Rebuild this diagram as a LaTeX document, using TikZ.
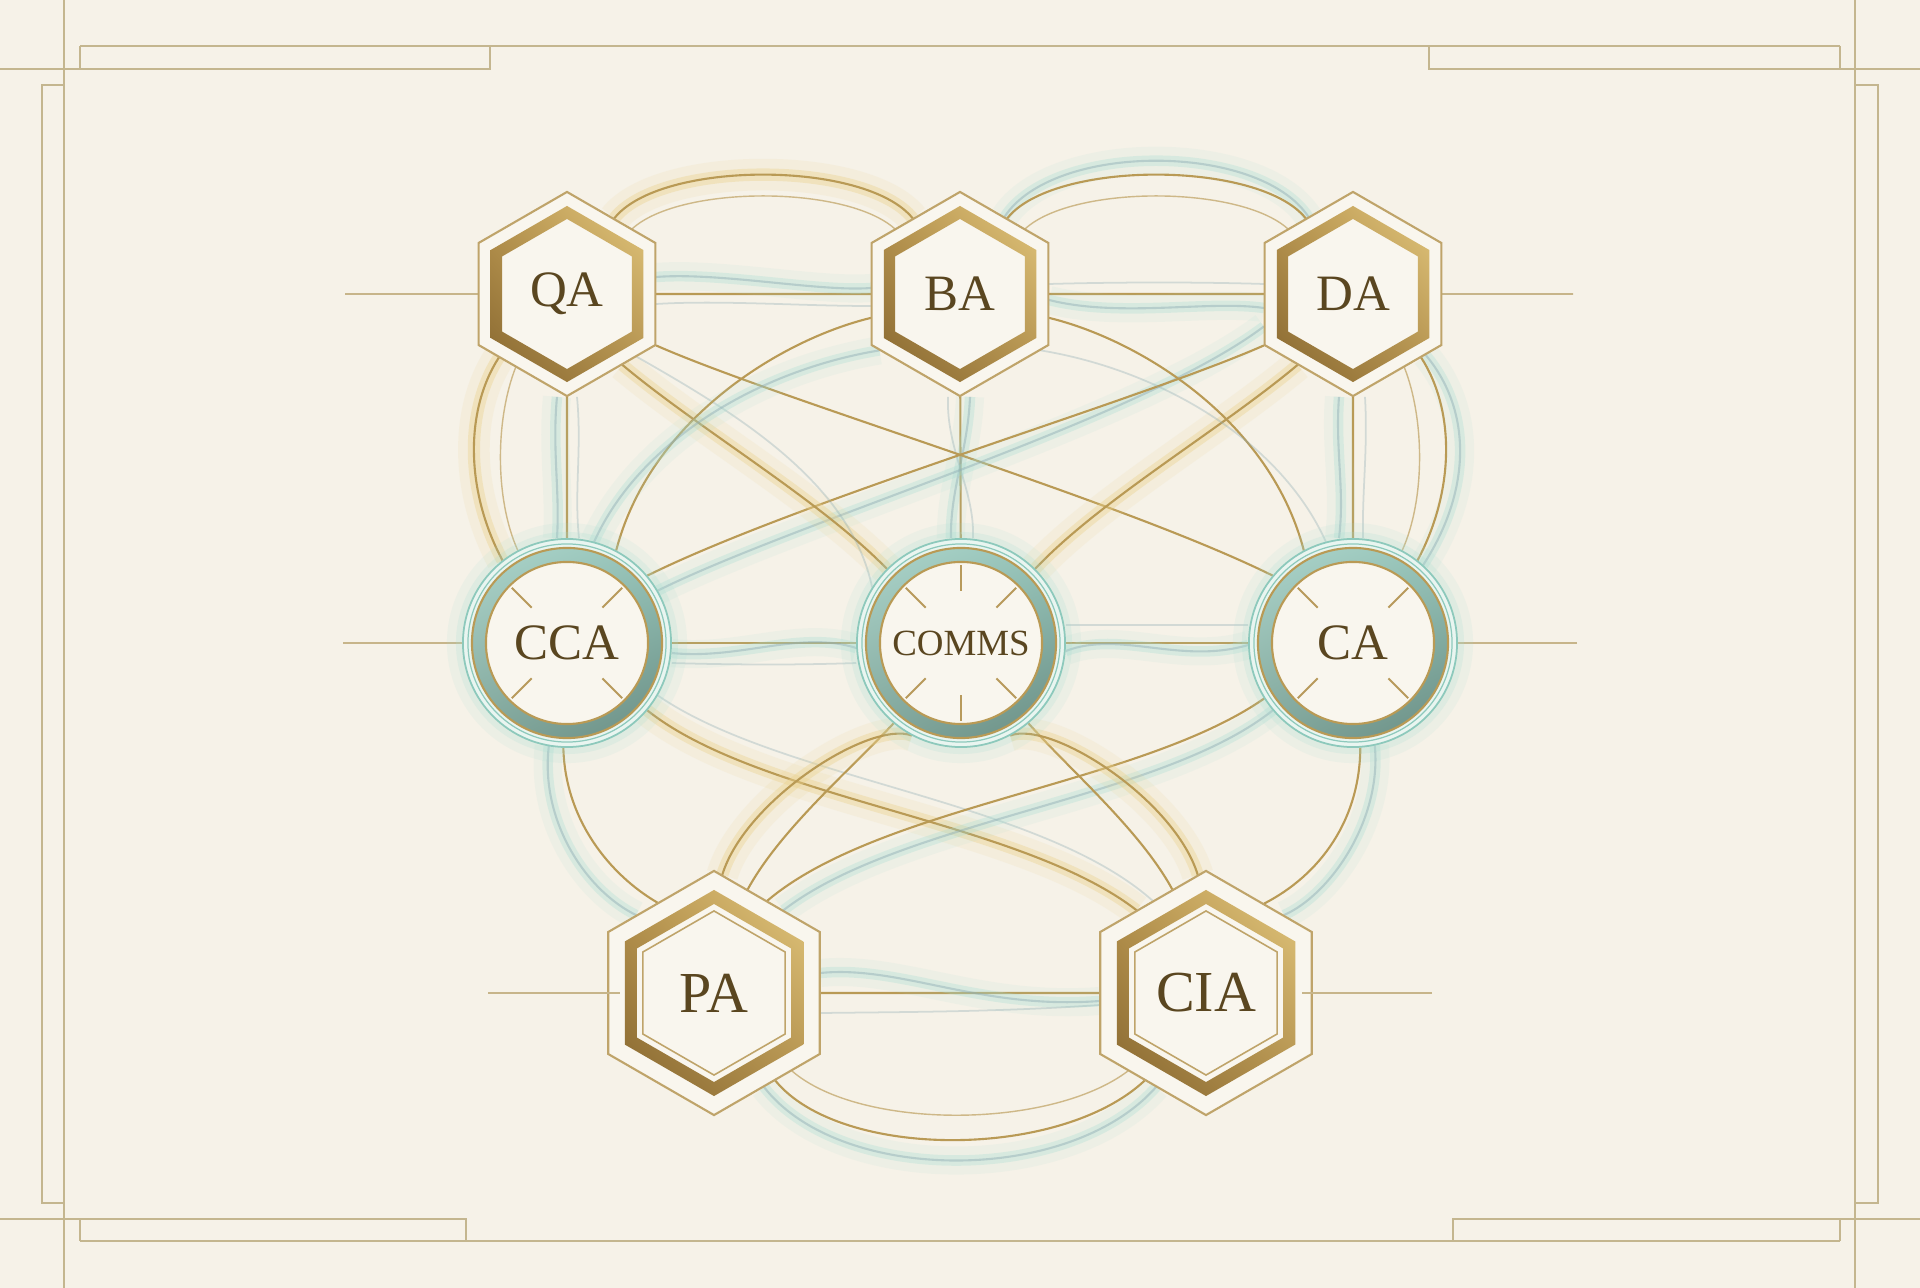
\documentclass[tikz,border=0pt]{standalone}
\usepackage{fontspec}
\setmainfont{Liberation Serif}
\usetikzlibrary{shapes.geometric,shadings}
\definecolor{bgc}{HTML}{F6F2E8}
\definecolor{framec}{HTML}{C4B68F}
\definecolor{stubc}{HTML}{C7B58A}
\definecolor{goldln}{HTML}{B99A55}
\definecolor{goldglow}{HTML}{EBD28C}
\definecolor{tealglow}{HTML}{A6DDD2}
\definecolor{tealcore}{HTML}{8FADB4}
\definecolor{hexline}{HTML}{BFA46A}
\definecolor{ink}{HTML}{5A4620}
\definecolor{cream}{HTML}{F9F6EE}
\definecolor{mint}{HTML}{E9F5F0}
\definecolor{ringteal}{HTML}{8DC9BC}
\definecolor{tickc}{HTML}{B89A5C}
\definecolor{bandUL}{HTML}{B8954F}
\definecolor{bandUR}{HTML}{E2C67C}
\definecolor{bandLL}{HTML}{86662F}
\definecolor{bandLR}{HTML}{B18F4C}
\definecolor{ringUL}{HTML}{ADD5CB}
\definecolor{ringUR}{HTML}{96C4B9}
\definecolor{ringLL}{HTML}{82A79C}
\definecolor{ringLR}{HTML}{6A8E84}
\pgfdeclarelayer{back}
\pgfdeclarelayer{links}
\pgfdeclarelayer{body}
\pgfsetlayers{back,links,body,main}
\newcommand\hexloop[1]{(90:#1) -- (150:#1) -- (210:#1) -- (270:#1) -- (330:#1) -- (30:#1) -- cycle}
\tikzset{
  framel/.style={draw=framec, line width=0.55pt},
  stubln/.style={draw=stubc, line width=0.5pt},
  gl/.style={draw=goldln, line width=0.6pt},
  gthin/.style={draw=goldln, line width=0.4pt, draw opacity=0.65},
  ggold/.style={gl, preaction={draw=goldglow, line width=9pt, opacity=0.13}, preaction={draw=goldglow, line width=3.5pt, opacity=0.38}},
  tband/.style={draw=tealcore, line width=0.6pt, draw opacity=0.45, preaction={draw=tealglow, line width=8pt, opacity=0.1}, preaction={draw=tealglow, line width=3pt, opacity=0.3}},
  tfaint/.style={draw=tealcore, line width=0.5pt, draw opacity=0.35},
  hexT/.style={regular polygon, regular polygon sides=6, regular polygon rotate=30, minimum size=2.04cm, inner sep=0pt, text=ink, font=\fontsize{14.5}{16}\selectfont},
  hexB/.style={hexT, minimum size=2.44cm, font=\fontsize{16.5}{18}\selectfont},
  circN/.style={circle, minimum size=2.08cm, inner sep=0pt, text=ink, font=\fontsize{14.5}{16}\selectfont},
  hexout/.style={fill=cream, draw=hexline, line width=0.6pt},
  goldband/.style={even odd rule, upper left=bandUL, upper right=bandUR, lower left=bandLL, lower right=bandLR},
  ringband/.style={even odd rule, upper left=ringUL, upper right=ringUR, lower left=ringLL, lower right=ringLR},
  tickln/.style={draw=tickc, line width=0.55pt},
}
\begin{document}
\begin{tikzpicture}[x=0.01cm, y=-0.01cm]
\useasboundingbox (0,0) rectangle (1920,1288);
% nodes
\node[hexT] (QA) at (567,294) {QA};
\node[hexT] (BA) at (960,294) {BA};
\node[hexT] (DA) at (1353,294) {DA};
\node[circN] (CCA) at (567,643) {CCA};
\node[circN, font=\fontsize{10.5}{12}\selectfont] (COMMS) at (961,643) {COMMS};
\node[circN] (CA) at (1353,643) {CA};
\node[hexB] (PA) at (714,993) {PA};
\node[hexB] (CIA) at (1206,993) {CIA};
\coordinate (sQA) at (345,294);
\coordinate (sDA) at (1573,294);
\coordinate (sCCA) at (343,643);
\coordinate (sCA) at (1577,643);
\coordinate (sPA) at (488,993);
\coordinate (sCIA) at (1432,993);

\begin{pgfonlayer}{back}
\fill[bgc] (0,0) rectangle (1920,1288);
\draw[framel] (64,0) -- (64,1288);
\draw[framel] (1855,0) -- (1855,1288);
\draw[framel] (80,46) -- (1840,46);
\draw[framel] (0,69) -- (490,69) -- (490,46);
\draw[framel] (80,46) -- (80,69);
\draw[framel] (1920,69) -- (1429,69) -- (1429,46);
\draw[framel] (1840,46) -- (1840,69);
\draw[framel] (80,1241) -- (1840,1241);
\draw[framel] (0,1219) -- (466,1219) -- (466,1241);
\draw[framel] (80,1219) -- (80,1241);
\draw[framel] (1920,1219) -- (1453,1219) -- (1453,1241);
\draw[framel] (1840,1219) -- (1840,1241);
\draw[framel] (64,85) -- (42,85) -- (42,1203) -- (64,1203);
\draw[framel] (1855,85) -- (1878,85) -- (1878,1203) -- (1855,1203);
\end{pgfonlayer}

\begin{pgfonlayer}{links}
% stubs
\draw[stubln] (sQA) -- (QA);
\draw[stubln] (sDA) -- (DA);
\draw[stubln] (sCCA) -- (CCA);
\draw[stubln] (sCA) -- (CA);
% outer loop
\draw[ggold] (QA.58) .. controls (660,160) and (866,160) .. (BA.122);
\draw[gthin] (QA.45) .. controls (680,185) and (846,185) .. (BA.135);
\draw[tband] (BA.60) .. controls (1053,142) and (1259,142) .. (DA.120);
\draw[gl] (BA.58) .. controls (1053,160) and (1259,160) .. (DA.122);
\draw[gthin] (BA.45) .. controls (1073,185) and (1239,185) .. (DA.135);
\draw[ggold] (QA.223) .. controls (465,410) and (465,490) .. (CCA.128);
\draw[gthin] (QA.235) .. controls (495,420) and (495,500) .. (CCA.118);
\draw[tband] (DA.-40) .. controls (1472,410) and (1472,490) .. (CA.48);
\draw[gl] (DA.-43) .. controls (1455,410) and (1455,490) .. (CA.52);
\draw[gthin] (DA.-55) .. controls (1425,420) and (1425,500) .. (CA.62);
\draw[tband] (CCA.-100) .. controls (540,820) and (585,890) .. (PA.135);
\draw[gl] (CCA.-92) .. controls (565,820) and (610,875) .. (PA.122);
\draw[tband] (CA.-78) .. controls (1382,820) and (1330,895) .. (CIA.45);
\draw[gl] (CA.-86) .. controls (1360,820) and (1320,875) .. (CIA.57);
\draw[tband] (PA.-62) .. controls (840,1185) and (1070,1185) .. (CIA.-118);
\draw[gl] (PA.-55) .. controls (840,1160) and (1060,1160) .. (CIA.-125);
\draw[gthin] (PA.-45) .. controls (860,1130) and (1050,1130) .. (CIA.-135);
% straight links
\draw[gl] (QA) -- (BA);
\draw[gl] (BA) -- (DA);
\draw[gl] (CCA) -- (COMMS);
\draw[gl] (COMMS) -- (CA);
\draw[gl] (PA) -- (CIA);
\draw[gl] (QA) -- (CCA);
\draw[gl] (BA) -- (COMMS);
\draw[gl] (DA) -- (CA);
% teal bands along straights
\draw[tband] ([yshift=0.17cm]QA.0) .. controls (720,272) and (820,292) .. ([yshift=0.06cm]BA.180);
\draw[tfaint] ([yshift=-0.1cm]QA.0) .. controls (720,300) and (800,306) .. ([yshift=-0.12cm]BA.180);
\draw[tband] ([yshift=-0.06cm]BA.0) .. controls (1120,318) and (1210,300) .. ([yshift=-0.14cm]DA.180);
\draw[tfaint] ([yshift=0.1cm]BA.0) .. controls (1120,282) and (1200,282) .. ([yshift=0.1cm]DA.180);
\draw[tband] ([yshift=-0.1cm]CCA.0) .. controls (740,660) and (800,630) .. ([yshift=-0.05cm]COMMS.180);
\draw[tfaint] ([yshift=-0.2cm]CCA.0) .. controls (740,665) and (800,665) .. ([yshift=-0.2cm]COMMS.180);
\draw[tband] ([yshift=-0.08cm]COMMS.0) .. controls (1120,630) and (1180,665) .. ([yshift=-0.02cm]CA.180);
\draw[tfaint] ([yshift=0.18cm]COMMS.0) .. controls (1120,625) and (1180,625) .. ([yshift=0.18cm]CA.180);
\draw[tband] ([yshift=0.2cm]PA.0) .. controls (900,965) and (980,1010) .. ([yshift=-0.08cm]CIA.180);
\draw[tfaint] ([yshift=-0.2cm]PA.0) .. controls (900,1012) and (1000,1012) .. ([yshift=-0.12cm]CIA.180);
\draw[tband] ([xshift=-0.1cm]QA.-90) .. controls (552,450) and (560,490) .. ([xshift=-0.1cm]CCA.90);
\draw[tfaint] ([xshift=0.1cm]QA.-90) .. controls (582,450) and (574,490) .. ([xshift=0.12cm]CCA.90);
\draw[tband] ([xshift=0.1cm]BA.-90) .. controls (968,450) and (950,490) .. ([xshift=-0.1cm]COMMS.90);
\draw[tfaint] ([xshift=-0.12cm]BA.-90) .. controls (946,450) and (975,490) .. ([xshift=0.12cm]COMMS.90);
\draw[tband] ([xshift=-0.14cm]DA.-90) .. controls (1335,450) and (1345,490) .. ([xshift=-0.14cm]CA.90);
\draw[tfaint] ([xshift=0.12cm]DA.-90) .. controls (1368,450) and (1362,490) .. ([xshift=0.1cm]CA.90);
% inner web
\draw[gl] (QA.-30) .. controls (780,400) and (1120,500) .. (CA.140);
\draw[tband] (DA.-160) .. controls (1140,420) and (800,520) .. (CCA.30);
\draw[gl] (DA.-150) .. controls (1140,400) and (800,500) .. (CCA.40);
\draw[ggold] (QA.-52) .. controls (700,430) and (820,500) .. (COMMS.135);
\draw[tfaint] (QA.-42) .. controls (730,410) and (850,480) .. (COMMS.148);
\draw[ggold] (DA.-128) .. controls (1220,430) and (1100,500) .. (COMMS.45);
\draw[gl] (BA.195) .. controls (780,340) and (650,420) .. (CCA.62);
\draw[tband] (BA.215) .. controls (760,370) and (640,440) .. (CCA.75);
\draw[gl] (BA.-15) .. controls (1140,340) and (1270,420) .. (CA.118);
\draw[tfaint] (BA.-35) .. controls (1160,370) and (1280,440) .. (CA.105);
\draw[ggold] (CCA.-40) .. controls (760,800) and (1020,820) .. (CIA.130);
\draw[tfaint] (CCA.-30) .. controls (780,780) and (1040,800) .. (CIA.120);
\draw[tband] (CA.-140) .. controls (1160,800) and (900,820) .. (PA.50);
\draw[gl] (CA.-148) .. controls (1140,785) and (880,805) .. (PA.60);
\draw[gl] (COMMS.-130) .. controls (850,770) and (780,830) .. (PA.72);
\draw[ggold] (COMMS.-118) .. controls (870,720) and (745,800) .. (PA.86);
\draw[gl] (COMMS.-50) .. controls (1070,770) and (1140,830) .. (CIA.108);
\draw[ggold] (COMMS.-62) .. controls (1052,720) and (1175,800) .. (CIA.94);
\end{pgfonlayer}

\begin{pgfonlayer}{body}
\foreach \n in {QA,BA,DA}{
  \filldraw[hexout, shift={(\n.center)}] \hexloop{1.02cm};
  \shade[goldband, shift={(\n.center)}] \hexloop{0.88cm} \hexloop{0.75cm};
}
\foreach \n in {PA,CIA}{
  \filldraw[hexout, shift={(\n.center)}] \hexloop{1.22cm};
  \shade[goldband, shift={(\n.center)}] \hexloop{1.03cm} \hexloop{0.89cm};
  \draw[hexline, line width=0.45pt, shift={(\n.center)}] \hexloop{0.82cm};
}
\draw[stubln] (sPA) -- ([xshift=-0.94cm]PA.center);
\draw[stubln] (sCIA) -- ([xshift=0.96cm]CIA.center);
\foreach \n in {CCA,COMMS,CA}{
  \fill[tealglow, opacity=0.12, shift={(\n.center)}] (0,0) circle (1.2cm);
  \fill[tealglow, opacity=0.2, shift={(\n.center)}] (0,0) circle (1.11cm);
  \filldraw[fill=mint, draw=ringteal, line width=0.5pt, shift={(\n.center)}] (0,0) circle (1.04cm);
  \draw[ringteal, line width=0.35pt, shift={(\n.center)}] (0,0) circle (0.99cm);
  \fill[cream, shift={(\n.center)}] (0,0) circle (0.81cm);
  \shade[ringband, shift={(\n.center)}] (0,0) circle (0.95cm) (0,0) circle (0.81cm);
  \draw[goldln, line width=0.6pt, shift={(\n.center)}] (0,0) circle (0.95cm) (0,0) circle (0.81cm);
  \draw[tickln, shift={(\n.center)}] (45:0.5cm) -- (45:0.78cm) (135:0.5cm) -- (135:0.78cm) (225:0.5cm) -- (225:0.78cm) (315:0.5cm) -- (315:0.78cm);
}
\draw[tickln, shift={(COMMS.center)}] (90:0.52cm) -- (90:0.78cm) (270:0.52cm) -- (270:0.78cm);
\end{pgfonlayer}
\end{tikzpicture}
\end{document}
